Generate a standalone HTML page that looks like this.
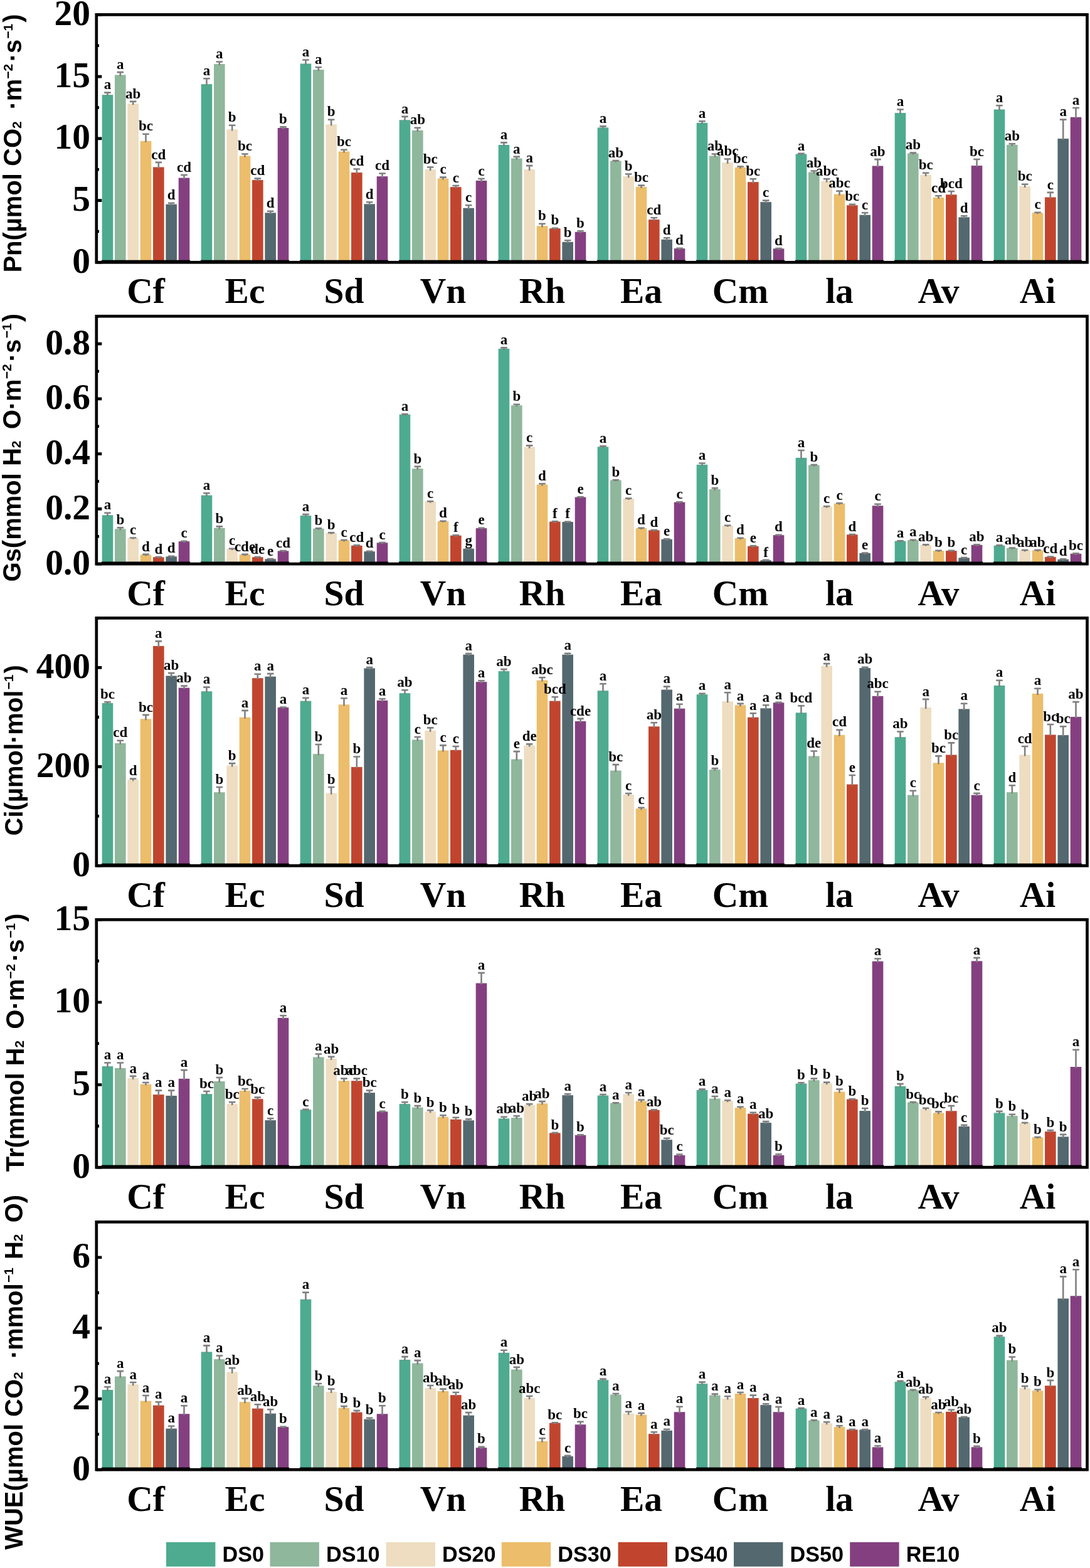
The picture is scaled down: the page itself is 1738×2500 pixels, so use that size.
<!DOCTYPE html>
<html><head><meta charset="utf-8"><title>Figure</title>
<style>html,body{margin:0;padding:0;background:#fff;}svg{display:block;}</style>
</head><body>
<svg width="1738" height="2500" viewBox="0 0 1738 2500">
<rect width="1738" height="2500" fill="#fff"/>
<g><rect x="162.68" y="151.2" width="17.6" height="267.1" fill="#4EAB8F"/><rect x="183.02" y="119.5" width="17.6" height="298.8" fill="#8FB79B"/><rect x="203.36" y="165.3" width="17.6" height="253" fill="#EEDDC1"/><rect x="223.7" y="224.8" width="17.6" height="193.5" fill="#ECBD6B"/><rect x="244.04" y="266.5" width="17.6" height="151.8" fill="#C1452E"/><rect x="264.38" y="325.7" width="17.6" height="92.6" fill="#54686F"/><rect x="284.72" y="283.6" width="17.6" height="134.7" fill="#843F80"/><rect x="320.68" y="134.2" width="17.6" height="284.1" fill="#4EAB8F"/><rect x="341.02" y="102.1" width="17.6" height="316.2" fill="#8FB79B"/><rect x="361.36" y="206.4" width="17.6" height="211.9" fill="#EEDDC1"/><rect x="381.7" y="248.5" width="17.6" height="169.8" fill="#ECBD6B"/><rect x="402.04" y="287" width="17.6" height="131.3" fill="#C1452E"/><rect x="422.38" y="339.3" width="17.6" height="79" fill="#54686F"/><rect x="442.72" y="204" width="17.6" height="214.3" fill="#843F80"/><rect x="478.68" y="101.5" width="17.6" height="316.8" fill="#4EAB8F"/><rect x="499.02" y="111.1" width="17.6" height="307.2" fill="#8FB79B"/><rect x="519.36" y="198.3" width="17.6" height="220" fill="#EEDDC1"/><rect x="539.7" y="241.5" width="17.6" height="176.8" fill="#ECBD6B"/><rect x="560.04" y="275.1" width="17.6" height="143.2" fill="#C1452E"/><rect x="580.38" y="325.3" width="17.6" height="93" fill="#54686F"/><rect x="600.72" y="281.2" width="17.6" height="137.1" fill="#843F80"/><rect x="636.68" y="191.3" width="17.6" height="227" fill="#4EAB8F"/><rect x="657.02" y="207.8" width="17.6" height="210.5" fill="#8FB79B"/><rect x="677.36" y="270.1" width="17.6" height="148.2" fill="#EEDDC1"/><rect x="697.7" y="284.6" width="17.6" height="133.7" fill="#ECBD6B"/><rect x="718.04" y="298.2" width="17.6" height="120.1" fill="#C1452E"/><rect x="738.38" y="331.7" width="17.6" height="86.6" fill="#54686F"/><rect x="758.72" y="288" width="17.6" height="130.3" fill="#843F80"/><rect x="794.68" y="231" width="17.6" height="187.3" fill="#4EAB8F"/><rect x="815.02" y="252.5" width="17.6" height="165.8" fill="#8FB79B"/><rect x="835.36" y="270.1" width="17.6" height="148.2" fill="#EEDDC1"/><rect x="855.7" y="360.2" width="17.6" height="58.1" fill="#ECBD6B"/><rect x="876.04" y="364.2" width="17.6" height="54.1" fill="#C1452E"/><rect x="896.38" y="385.8" width="17.6" height="32.5" fill="#54686F"/><rect x="916.72" y="369.8" width="17.6" height="48.5" fill="#843F80"/><rect x="952.68" y="203.4" width="17.6" height="214.9" fill="#4EAB8F"/><rect x="973.02" y="256.5" width="17.6" height="161.8" fill="#8FB79B"/><rect x="993.36" y="281.2" width="17.6" height="137.1" fill="#EEDDC1"/><rect x="1013.7" y="298" width="17.6" height="120.3" fill="#ECBD6B"/><rect x="1034.04" y="350.1" width="17.6" height="68.2" fill="#C1452E"/><rect x="1054.38" y="381.8" width="17.6" height="36.5" fill="#54686F"/><rect x="1074.72" y="396.2" width="17.6" height="22.1" fill="#843F80"/><rect x="1110.68" y="195.9" width="17.6" height="222.4" fill="#4EAB8F"/><rect x="1131.02" y="248.5" width="17.6" height="169.8" fill="#8FB79B"/><rect x="1151.36" y="259.1" width="17.6" height="159.2" fill="#EEDDC1"/><rect x="1171.7" y="266.9" width="17.6" height="151.4" fill="#ECBD6B"/><rect x="1192.04" y="290.2" width="17.6" height="128.1" fill="#C1452E"/><rect x="1212.38" y="322.1" width="17.6" height="96.2" fill="#54686F"/><rect x="1232.72" y="396.4" width="17.6" height="21.9" fill="#843F80"/><rect x="1268.68" y="245.5" width="17.6" height="172.8" fill="#4EAB8F"/><rect x="1289.02" y="274.5" width="17.6" height="143.8" fill="#8FB79B"/><rect x="1309.36" y="288.6" width="17.6" height="129.7" fill="#EEDDC1"/><rect x="1329.7" y="309.6" width="17.6" height="108.7" fill="#ECBD6B"/><rect x="1350.04" y="327.3" width="17.6" height="91" fill="#C1452E"/><rect x="1370.38" y="342.7" width="17.6" height="75.6" fill="#54686F"/><rect x="1390.72" y="264.5" width="17.6" height="153.8" fill="#843F80"/><rect x="1426.68" y="180.1" width="17.6" height="238.2" fill="#4EAB8F"/><rect x="1447.02" y="244.6" width="17.6" height="173.7" fill="#8FB79B"/><rect x="1467.36" y="278.9" width="17.6" height="139.4" fill="#EEDDC1"/><rect x="1487.7" y="314.9" width="17.6" height="103.4" fill="#ECBD6B"/><rect x="1508.04" y="310.3" width="17.6" height="108" fill="#C1452E"/><rect x="1528.38" y="346.3" width="17.6" height="72" fill="#54686F"/><rect x="1548.72" y="264.1" width="17.6" height="154.2" fill="#843F80"/><rect x="1584.68" y="174.5" width="17.6" height="243.8" fill="#4EAB8F"/><rect x="1605.02" y="230.9" width="17.6" height="187.4" fill="#8FB79B"/><rect x="1625.36" y="296.9" width="17.6" height="121.4" fill="#EEDDC1"/><rect x="1645.7" y="339.3" width="17.6" height="79" fill="#ECBD6B"/><rect x="1666.04" y="314.5" width="17.6" height="103.8" fill="#C1452E"/><rect x="1686.38" y="221.1" width="17.6" height="197.2" fill="#54686F"/><rect x="1706.72" y="186.8" width="17.6" height="231.5" fill="#843F80"/></g>
<g fill="#000"><rect x="161.88" y="414.7" width="141.24" height="3.6"/><rect x="319.88" y="414.7" width="141.24" height="3.6"/><rect x="477.88" y="414.7" width="141.24" height="3.6"/><rect x="635.88" y="414.7" width="141.24" height="3.6"/><rect x="793.88" y="414.7" width="141.24" height="3.6"/><rect x="951.88" y="414.7" width="141.24" height="3.6"/><rect x="1109.88" y="414.7" width="141.24" height="3.6"/><rect x="1267.88" y="414.7" width="141.24" height="3.6"/><rect x="1425.88" y="414.7" width="141.24" height="3.6"/><rect x="1583.88" y="414.7" width="141.24" height="3.6"/></g>
<path d="M171.48 153.2V147.6M166.18 147.6H176.78M191.82 121.5V115.1M186.52 115.1H197.12M212.16 167.3V161.9M206.86 161.9H217.46M232.5 226.8V213.8M227.2 213.8H237.8M252.84 268.5V258.9M247.54 258.9H258.14M273.18 327.7V323.7M267.88 323.7H278.48M293.52 285.6V279M288.22 279H298.82M329.48 136.2V125.2M324.18 125.2H334.78M349.82 104.1V98.5M344.52 98.5H355.12M370.16 208.4V199.7M364.86 199.7H375.46M390.5 250.5V245.5M385.2 245.5H395.8M410.84 289V284.6M405.54 284.6H416.14M431.18 341.3V336.7M425.88 336.7H436.48M451.52 206V202.4M446.22 202.4H456.82M487.48 103.5V95.5M482.18 95.5H492.78M507.82 113.1V107.3M502.52 107.3H513.12M528.16 200.3V190.7M522.86 190.7H533.46M548.5 243.5V238.8M543.2 238.8H553.8M568.84 277.1V269.5M563.54 269.5H574.14M589.18 327.3V322.3M583.88 322.3H594.48M609.52 283.2V276.5M604.22 276.5H614.82M645.48 193.3V185.9M640.18 185.9H650.78M665.82 209.8V203.8M660.52 203.8H671.12M686.16 272.1V266.5M680.86 266.5H691.46M706.5 286.6V282.6M701.2 282.6H711.8M726.84 300.2V296M721.54 296H732.14M747.18 333.7V327.3M741.88 327.3H752.48M767.52 290V285M762.22 285H772.82M803.48 233V227.4M798.18 227.4H808.78M823.82 254.5V249.9M818.52 249.9H829.12M844.16 272.1V264.1M838.86 264.1H849.46M864.5 362.2V356.7M859.2 356.7H869.8M884.84 366.2V363.7M879.54 363.7H890.14M905.18 387.8V383.2M899.88 383.2H910.48M925.52 371.8V368.2M920.22 368.2H930.82M961.48 205.4V201.4M956.18 201.4H966.78M981.82 258.5V256.1M976.52 256.1H987.12M1002.16 283.2V277.5M996.86 277.5H1007.46M1022.5 300V295.6M1017.2 295.6H1027.8M1042.84 352.1V347.3M1037.54 347.3H1048.14M1063.18 383.8V379.2M1057.88 379.2H1068.48M1083.52 398.2V395.8M1078.22 395.8H1088.82M1119.48 197.9V193.3M1114.18 193.3H1124.78M1139.82 250.5V245.5M1134.52 245.5H1145.12M1160.16 261.1V253.5M1154.86 253.5H1165.46M1180.5 268.9V265.5M1175.2 265.5H1185.8M1200.84 292.2V285.2M1195.54 285.2H1206.14M1221.18 324.1V319.6M1215.88 319.6H1226.48M1241.52 398.4V396.1M1236.22 396.1H1246.82M1277.48 247.5V244.9M1272.18 244.9H1282.78M1297.82 276.5V272.5M1292.52 272.5H1303.12M1318.16 290.6V285.2M1312.86 285.2H1323.46M1338.5 311.6V304.6M1333.2 304.6H1343.8M1358.84 329.3V325.7M1353.54 325.7H1364.14M1379.18 344.7V339.3M1373.88 339.3H1384.48M1399.52 266.5V254.1M1394.22 254.1H1404.82M1435.48 182.1V174.5M1430.18 174.5H1440.78M1455.82 246.6V243.6M1450.52 243.6H1461.12M1476.16 280.9V275.8M1470.86 275.8H1481.46M1496.5 316.9V312.2M1491.2 312.2H1501.8M1516.84 312.3V305M1511.54 305H1522.14M1537.18 348.3V344.2M1531.88 344.2H1542.48M1557.52 266.1V254M1552.22 254H1562.82M1593.48 176.5V168.2M1588.18 168.2H1598.78M1613.82 232.9V229.2M1608.52 229.2H1619.12M1634.16 298.9V293.8M1628.86 293.8H1639.46M1654.5 341.3V338.7M1649.2 338.7H1659.8M1674.84 316.5V306.9M1669.54 306.9H1680.14M1695.18 223.1V190.6M1689.88 190.6H1700.48M1715.52 188.8V172M1710.22 172H1720.82" stroke="#808080" stroke-width="2.6" fill="none"/>
<g font-family="'Liberation Serif','Times New Roman',serif" font-weight="bold" font-size="23" text-anchor="middle"><text x="171.48" y="142.2">a</text><text x="191.82" y="109.7">a</text><text x="212.16" y="156.5">ab</text><text x="232.5" y="208.4">bc</text><text x="252.84" y="253.5">cd</text><text x="273.18" y="318.3">d</text><text x="293.52" y="273.6">cd</text><text x="329.48" y="119.8">a</text><text x="349.82" y="93.1">a</text><text x="370.16" y="194.3">b</text><text x="390.5" y="240.1">bc</text><text x="410.84" y="279.2">cd</text><text x="431.18" y="331.3">d</text><text x="451.52" y="197">b</text><text x="487.48" y="90.1">a</text><text x="507.82" y="101.9">a</text><text x="528.16" y="185.3">b</text><text x="548.5" y="233.4">bc</text><text x="568.84" y="264.1">cd</text><text x="589.18" y="316.9">d</text><text x="609.52" y="271.1">cd</text><text x="645.48" y="180.5">a</text><text x="665.82" y="198.4">ab</text><text x="686.16" y="261.1">bc</text><text x="706.5" y="277.2">c</text><text x="726.84" y="290.6">c</text><text x="747.18" y="321.9">c</text><text x="767.52" y="279.6">c</text><text x="803.48" y="222">a</text><text x="823.82" y="244.5">a</text><text x="844.16" y="258.7">a</text><text x="864.5" y="351.3">b</text><text x="884.84" y="358.3">b</text><text x="905.18" y="377.8">b</text><text x="925.52" y="362.8">b</text><text x="961.48" y="196">a</text><text x="981.82" y="250.7">ab</text><text x="1002.16" y="272.1">b</text><text x="1022.5" y="290.2">bc</text><text x="1042.84" y="341.9">cd</text><text x="1063.18" y="373.8">d</text><text x="1083.52" y="390.4">d</text><text x="1119.48" y="187.9">a</text><text x="1139.82" y="240.1">ab</text><text x="1160.16" y="248.1">abc</text><text x="1180.5" y="260.1">bc</text><text x="1200.84" y="279.8">bc</text><text x="1221.18" y="314.2">c</text><text x="1241.52" y="390.7">d</text><text x="1277.48" y="239.5">a</text><text x="1297.82" y="267.1">ab</text><text x="1318.16" y="279.8">abc</text><text x="1338.5" y="299.2">abc</text><text x="1358.84" y="320.3">bc</text><text x="1379.18" y="333.9">c</text><text x="1399.52" y="248.7">ab</text><text x="1435.48" y="169.1">a</text><text x="1455.82" y="238.2">ab</text><text x="1476.16" y="270.4">bc</text><text x="1496.5" y="306.8">cd</text><text x="1516.84" y="299.6">bcd</text><text x="1537.18" y="338.8">d</text><text x="1557.52" y="248.6">bc</text><text x="1593.48" y="162.8">a</text><text x="1613.82" y="223.8">ab</text><text x="1634.16" y="288.4">bc</text><text x="1654.5" y="333.3">c</text><text x="1674.84" y="301.5">c</text><text x="1695.18" y="185.2">a</text><text x="1715.52" y="166.6">a</text></g>
<rect x="153.8" y="23.4" width="1579.7" height="394.9" fill="none" stroke="#000" stroke-width="4.7"/>
<path d="M153.8 418.3H162.3M153.8 368.94H158M153.8 319.58H162.3M153.8 270.21H158M153.8 220.85H162.3M153.8 171.49H158M153.8 122.13H162.3M153.8 72.76H158M153.8 23.4H162.3" stroke="#000" stroke-width="4.6" fill="none"/>
<g font-family="'Liberation Serif','Times New Roman',serif" font-weight="bold" font-size="57.5" text-anchor="end"><text x="144" y="434.8">0</text><text x="144" y="336.08">5</text><text x="144" y="237.35">10</text><text x="144" y="138.63">15</text><text x="144" y="39.9">20</text></g>
<g font-family="'Liberation Serif','Times New Roman',serif" font-weight="bold" font-size="57.5" text-anchor="middle"><text x="232.5" y="482.7">Cf</text><text x="390.5" y="482.7">Ec</text><text x="548.5" y="482.7">Sd</text><text x="706.5" y="482.7">Vn</text><text x="864.5" y="482.7">Rh</text><text x="1022.5" y="482.7">Ea</text><text x="1180.5" y="482.7">Cm</text><text x="1338.5" y="482.7">la</text><text x="1496.5" y="482.7">Av</text><text x="1654.5" y="482.7">Ai</text></g>
<text transform="translate(34.3,228.5) rotate(-90)" text-anchor="middle" font-family="'Liberation Sans',Arial,sans-serif" font-weight="bold" font-size="40"><tspan>Pn(µmol CO</tspan><tspan font-size="21">2</tspan><tspan dx="7.5"> ·m</tspan><tspan dy="-14.8" font-size="21">−2</tspan><tspan dx="3.5" dy="14.8">·s</tspan><tspan dx="1" dy="-14.8" font-size="21">−1</tspan><tspan dx="2" dy="14.8">)</tspan></text>
<g><rect x="162.68" y="821.3" width="17.6" height="77.8" fill="#4EAB8F"/><rect x="183.02" y="843.4" width="17.6" height="55.7" fill="#8FB79B"/><rect x="203.36" y="857.8" width="17.6" height="41.3" fill="#EEDDC1"/><rect x="223.7" y="884.5" width="17.6" height="14.6" fill="#ECBD6B"/><rect x="244.04" y="888.3" width="17.6" height="10.8" fill="#C1452E"/><rect x="264.38" y="887.3" width="17.6" height="11.8" fill="#54686F"/><rect x="284.72" y="863.2" width="17.6" height="35.9" fill="#843F80"/><rect x="320.68" y="789.6" width="17.6" height="109.5" fill="#4EAB8F"/><rect x="341.02" y="841.8" width="17.6" height="57.3" fill="#8FB79B"/><rect x="361.36" y="875.2" width="17.6" height="23.9" fill="#EEDDC1"/><rect x="381.7" y="884.3" width="17.6" height="14.8" fill="#ECBD6B"/><rect x="402.04" y="888.3" width="17.6" height="10.8" fill="#C1452E"/><rect x="422.38" y="891.3" width="17.6" height="7.8" fill="#54686F"/><rect x="442.72" y="878.4" width="17.6" height="20.7" fill="#843F80"/><rect x="478.68" y="822.1" width="17.6" height="77" fill="#4EAB8F"/><rect x="499.02" y="842.8" width="17.6" height="56.3" fill="#8FB79B"/><rect x="519.36" y="849.8" width="17.6" height="49.3" fill="#EEDDC1"/><rect x="539.7" y="861.4" width="17.6" height="37.7" fill="#ECBD6B"/><rect x="560.04" y="869.8" width="17.6" height="29.3" fill="#C1452E"/><rect x="580.38" y="879.2" width="17.6" height="19.9" fill="#54686F"/><rect x="600.72" y="865.4" width="17.6" height="33.7" fill="#843F80"/><rect x="636.68" y="660.9" width="17.6" height="238.2" fill="#4EAB8F"/><rect x="657.02" y="747.1" width="17.6" height="152" fill="#8FB79B"/><rect x="677.36" y="799.7" width="17.6" height="99.4" fill="#EEDDC1"/><rect x="697.7" y="831.1" width="17.6" height="68" fill="#ECBD6B"/><rect x="718.04" y="853.8" width="17.6" height="45.3" fill="#C1452E"/><rect x="738.38" y="874.8" width="17.6" height="24.3" fill="#54686F"/><rect x="758.72" y="842.2" width="17.6" height="56.9" fill="#843F80"/><rect x="794.68" y="556" width="17.6" height="343.1" fill="#4EAB8F"/><rect x="815.02" y="646.3" width="17.6" height="252.8" fill="#8FB79B"/><rect x="835.36" y="712.8" width="17.6" height="186.3" fill="#EEDDC1"/><rect x="855.7" y="772.6" width="17.6" height="126.5" fill="#ECBD6B"/><rect x="876.04" y="831.7" width="17.6" height="67.4" fill="#C1452E"/><rect x="896.38" y="832.1" width="17.6" height="67" fill="#54686F"/><rect x="916.72" y="792.6" width="17.6" height="106.5" fill="#843F80"/><rect x="952.68" y="712.4" width="17.6" height="186.7" fill="#4EAB8F"/><rect x="973.02" y="765.6" width="17.6" height="133.5" fill="#8FB79B"/><rect x="993.36" y="795" width="17.6" height="104.1" fill="#EEDDC1"/><rect x="1013.7" y="842.2" width="17.6" height="56.9" fill="#ECBD6B"/><rect x="1034.04" y="845.4" width="17.6" height="53.7" fill="#C1452E"/><rect x="1054.38" y="859.8" width="17.6" height="39.3" fill="#54686F"/><rect x="1074.72" y="800.7" width="17.6" height="98.4" fill="#843F80"/><rect x="1110.68" y="740.9" width="17.6" height="158.2" fill="#4EAB8F"/><rect x="1131.02" y="780" width="17.6" height="119.1" fill="#8FB79B"/><rect x="1151.36" y="838.1" width="17.6" height="61" fill="#EEDDC1"/><rect x="1171.7" y="858.2" width="17.6" height="40.9" fill="#ECBD6B"/><rect x="1192.04" y="870.8" width="17.6" height="28.3" fill="#C1452E"/><rect x="1212.38" y="893.3" width="17.6" height="5.8" fill="#54686F"/><rect x="1232.72" y="853.2" width="17.6" height="45.9" fill="#843F80"/><rect x="1268.68" y="729.9" width="17.6" height="169.2" fill="#4EAB8F"/><rect x="1289.02" y="741.5" width="17.6" height="157.6" fill="#8FB79B"/><rect x="1309.36" y="807.7" width="17.6" height="91.4" fill="#EEDDC1"/><rect x="1329.7" y="802.7" width="17.6" height="96.4" fill="#ECBD6B"/><rect x="1350.04" y="852.4" width="17.6" height="46.7" fill="#C1452E"/><rect x="1370.38" y="881.9" width="17.6" height="17.2" fill="#54686F"/><rect x="1390.72" y="806.3" width="17.6" height="92.8" fill="#843F80"/><rect x="1426.68" y="862.6" width="17.6" height="36.5" fill="#4EAB8F"/><rect x="1447.02" y="861.2" width="17.6" height="37.9" fill="#8FB79B"/><rect x="1467.36" y="868.8" width="17.6" height="30.3" fill="#EEDDC1"/><rect x="1487.7" y="878.1" width="17.6" height="21" fill="#ECBD6B"/><rect x="1508.04" y="878.1" width="17.6" height="21" fill="#C1452E"/><rect x="1528.38" y="889.4" width="17.6" height="9.7" fill="#54686F"/><rect x="1548.72" y="868.8" width="17.6" height="30.3" fill="#843F80"/><rect x="1584.68" y="869.8" width="17.6" height="29.3" fill="#4EAB8F"/><rect x="1605.02" y="873.9" width="17.6" height="25.2" fill="#8FB79B"/><rect x="1625.36" y="877.4" width="17.6" height="21.7" fill="#EEDDC1"/><rect x="1645.7" y="877.4" width="17.6" height="21.7" fill="#ECBD6B"/><rect x="1666.04" y="887.9" width="17.6" height="11.2" fill="#C1452E"/><rect x="1686.38" y="891.8" width="17.6" height="7.3" fill="#54686F"/><rect x="1706.72" y="882.8" width="17.6" height="16.3" fill="#843F80"/></g>
<g fill="#000"><rect x="161.88" y="895.5" width="141.24" height="3.6"/><rect x="319.88" y="895.5" width="141.24" height="3.6"/><rect x="477.88" y="895.5" width="141.24" height="3.6"/><rect x="635.88" y="895.5" width="141.24" height="3.6"/><rect x="793.88" y="895.5" width="141.24" height="3.6"/><rect x="951.88" y="895.5" width="141.24" height="3.6"/><rect x="1109.88" y="895.5" width="141.24" height="3.6"/><rect x="1267.88" y="895.5" width="141.24" height="3.6"/><rect x="1425.88" y="895.5" width="141.24" height="3.6"/><rect x="1583.88" y="895.5" width="141.24" height="3.6"/></g>
<path d="M171.48 823.3V817.7M166.18 817.7H176.78M191.82 845.4V841.4M186.52 841.4H197.12M212.16 859.8V857.5M206.86 857.5H217.46M232.5 886.5V883.9M227.2 883.9H237.8M252.84 890.3V888M247.54 888H258.14M273.18 889.3V886.8M267.88 886.8H278.48M293.52 865.2V862.8M288.22 862.8H298.82M329.48 791.6V786.2M324.18 786.2H334.78M349.82 843.8V839.4M344.52 839.4H355.12M370.16 877.2V874.8M364.86 874.8H375.46M390.5 886.3V883.9M385.2 883.9H395.8M410.84 890.3V888M405.54 888H416.14M431.18 893.3V891M425.88 891H436.48M451.52 880.4V878M446.22 878H456.82M487.48 824.1V820.1M482.18 820.1H492.78M507.82 844.8V842.4M502.52 842.4H513.12M528.16 851.8V849.4M522.86 849.4H533.46M548.5 863.4V861M543.2 861H553.8M568.84 871.8V869.4M563.54 869.4H574.14M589.18 881.2V878.8M583.88 878.8H594.48M609.52 867.4V865M604.22 865H614.82M645.48 662.9V660.4M640.18 660.4H650.78M665.82 749.1V743.9M660.52 743.9H671.12M686.16 801.7V799.3M680.86 799.3H691.46M706.5 833.1V830.7M701.2 830.7H711.8M726.84 855.8V853.4M721.54 853.4H732.14M747.18 876.8V874.4M741.88 874.4H752.48M767.52 844.2V841.8M762.22 841.8H772.82M803.48 558V554.4M798.18 554.4H808.78M823.82 648.3V644.7M818.52 644.7H829.12M844.16 714.8V710.4M838.86 710.4H849.46M864.5 774.6V771.2M859.2 771.2H869.8M884.84 833.7V831.3M879.54 831.3H890.14M905.18 834.1V831.7M899.88 831.7H910.48M925.52 794.6V792.2M920.22 792.2H930.82M961.48 714.4V711.4M956.18 711.4H966.78M981.82 767.6V765.2M976.52 765.2H987.12M1002.16 797V794.6M996.86 794.6H1007.46M1022.5 844.2V841.8M1017.2 841.8H1027.8M1042.84 847.4V845M1037.54 845H1048.14M1063.18 861.8V859.4M1057.88 859.4H1068.48M1083.52 802.7V800.3M1078.22 800.3H1088.82M1119.48 742.9V738.5M1114.18 738.5H1124.78M1139.82 782V778.2M1134.52 778.2H1145.12M1160.16 840.1V837.7M1154.86 837.7H1165.46M1180.5 860.2V857.8M1175.2 857.8H1185.8M1200.84 872.8V870.4M1195.54 870.4H1206.14M1221.18 895.3V892.9M1215.88 892.9H1226.48M1241.52 855.2V852.8M1236.22 852.8H1246.82M1277.48 731.9V718M1272.18 718H1282.78M1297.82 743.5V741.1M1292.52 741.1H1303.12M1318.16 809.7V807.3M1312.86 807.3H1323.46M1338.5 804.7V802.3M1333.2 802.3H1343.8M1358.84 854.4V852M1353.54 852H1364.14M1379.18 883.9V881.5M1373.88 881.5H1384.48M1399.52 808.3V803.7M1394.22 803.7H1404.82M1435.48 864.6V862.2M1430.18 862.2H1440.78M1455.82 863.2V860.8M1450.52 860.8H1461.12M1476.16 870.8V868.4M1470.86 868.4H1481.46M1496.5 880.1V877.7M1491.2 877.7H1501.8M1516.84 880.1V877.7M1511.54 877.7H1522.14M1537.18 891.4V889M1531.88 889H1542.48M1557.52 870.8V868.4M1552.22 868.4H1562.82M1593.48 871.8V869.4M1588.18 869.4H1598.78M1613.82 875.9V873.5M1608.52 873.5H1619.12M1634.16 879.4V877M1628.86 877H1639.46M1654.5 879.4V877M1649.2 877H1659.8M1674.84 889.9V887.5M1669.54 887.5H1680.14M1695.18 893.8V891.4M1689.88 891.4H1700.48M1715.52 884.8V882.4M1710.22 882.4H1720.82" stroke="#808080" stroke-width="2.6" fill="none"/>
<g font-family="'Liberation Serif','Times New Roman',serif" font-weight="bold" font-size="23" text-anchor="middle"><text x="171.48" y="812.3">a</text><text x="191.82" y="836">b</text><text x="212.16" y="852.1">c</text><text x="232.5" y="878.5">d</text><text x="252.84" y="882.6">d</text><text x="273.18" y="881.4">d</text><text x="293.52" y="857.4">c</text><text x="329.48" y="780.8">a</text><text x="349.82" y="834">b</text><text x="370.16" y="869.4">c</text><text x="390.5" y="878.5">cde</text><text x="410.84" y="882.6">de</text><text x="431.18" y="885.6">e</text><text x="451.52" y="872.6">cd</text><text x="487.48" y="814.7">a</text><text x="507.82" y="837">b</text><text x="528.16" y="844">b</text><text x="548.5" y="855.6">c</text><text x="568.84" y="864">cd</text><text x="589.18" y="873.4">d</text><text x="609.52" y="859.6">c</text><text x="645.48" y="655">a</text><text x="665.82" y="738.5">b</text><text x="686.16" y="793.9">c</text><text x="706.5" y="825.3">d</text><text x="726.84" y="848">f</text><text x="747.18" y="869">g</text><text x="767.52" y="836.4">e</text><text x="803.48" y="549">a</text><text x="823.82" y="639.3">b</text><text x="844.16" y="705">c</text><text x="864.5" y="765.8">d</text><text x="884.84" y="825.9">f</text><text x="905.18" y="826.3">f</text><text x="925.52" y="786.8">e</text><text x="961.48" y="706">a</text><text x="981.82" y="759.8">b</text><text x="1002.16" y="789.2">c</text><text x="1022.5" y="836.4">d</text><text x="1042.84" y="839.6">d</text><text x="1063.18" y="854">e</text><text x="1083.52" y="794.9">c</text><text x="1119.48" y="733.1">a</text><text x="1139.82" y="772.8">b</text><text x="1160.16" y="832.3">c</text><text x="1180.5" y="852.4">d</text><text x="1200.84" y="865">e</text><text x="1221.18" y="887.5">f</text><text x="1241.52" y="847.4">d</text><text x="1277.48" y="712.6">a</text><text x="1297.82" y="735.7">b</text><text x="1318.16" y="801.9">c</text><text x="1338.5" y="796.9">c</text><text x="1358.84" y="846.6">d</text><text x="1379.18" y="876.1">e</text><text x="1399.52" y="798.3">c</text><text x="1435.48" y="856.8">a</text><text x="1455.82" y="855.4">a</text><text x="1476.16" y="863">ab</text><text x="1496.5" y="872.3">b</text><text x="1516.84" y="872.3">b</text><text x="1537.18" y="883.6">c</text><text x="1557.52" y="863">ab</text><text x="1593.48" y="864">a</text><text x="1613.82" y="868.1">ab</text><text x="1634.16" y="871.6">ab</text><text x="1654.5" y="871.6">ab</text><text x="1674.84" y="882.1">cd</text><text x="1695.18" y="886">d</text><text x="1715.52" y="877">bc</text></g>
<rect x="153.8" y="504.2" width="1579.7" height="394.9" fill="none" stroke="#000" stroke-width="4.7"/>
<path d="M153.8 899.1H162.3M153.8 855.22H158M153.8 811.34H162.3M153.8 767.47H158M153.8 723.59H162.3M153.8 679.71H158M153.8 635.83H162.3M153.8 591.96H158M153.8 548.08H162.3M153.8 504.2H158" stroke="#000" stroke-width="4.6" fill="none"/>
<g font-family="'Liberation Serif','Times New Roman',serif" font-weight="bold" font-size="57.5" text-anchor="end"><text x="144" y="915.6">0.0</text><text x="144" y="827.84">0.2</text><text x="144" y="740.09">0.4</text><text x="144" y="652.33">0.6</text><text x="144" y="564.58">0.8</text></g>
<g font-family="'Liberation Serif','Times New Roman',serif" font-weight="bold" font-size="57.5" text-anchor="middle"><text x="232.5" y="964.7">Cf</text><text x="390.5" y="964.7">Ec</text><text x="548.5" y="964.7">Sd</text><text x="706.5" y="964.7">Vn</text><text x="864.5" y="964.7">Rh</text><text x="1022.5" y="964.7">Ea</text><text x="1180.5" y="964.7">Cm</text><text x="1338.5" y="964.7">la</text><text x="1496.5" y="964.7">Av</text><text x="1654.5" y="964.7">Ai</text></g>
<text transform="translate(33.1,713.75) rotate(-90)" text-anchor="middle" font-family="'Liberation Sans',Arial,sans-serif" font-weight="bold" font-size="40"><tspan>Gs(mmol H</tspan><tspan font-size="21">2</tspan><tspan dx="7"> O·m</tspan><tspan dy="-14.8" font-size="21">−2</tspan><tspan dx="4" dy="14.8">·s</tspan><tspan dx="1.5" dy="-14.8" font-size="21">−1</tspan><tspan dx="2" dy="14.8">)</tspan></text>
<g><rect x="162.68" y="1120.9" width="17.6" height="259.4" fill="#4EAB8F"/><rect x="183.02" y="1185" width="17.6" height="195.3" fill="#8FB79B"/><rect x="203.36" y="1243.2" width="17.6" height="137.1" fill="#EEDDC1"/><rect x="223.7" y="1146.3" width="17.6" height="234" fill="#ECBD6B"/><rect x="244.04" y="1030" width="17.6" height="350.3" fill="#C1452E"/><rect x="264.38" y="1077.5" width="17.6" height="302.8" fill="#54686F"/><rect x="284.72" y="1096.6" width="17.6" height="283.7" fill="#843F80"/><rect x="320.68" y="1102.2" width="17.6" height="278.1" fill="#4EAB8F"/><rect x="341.02" y="1263.2" width="17.6" height="117.1" fill="#8FB79B"/><rect x="361.36" y="1220.5" width="17.6" height="159.8" fill="#EEDDC1"/><rect x="381.7" y="1143.7" width="17.6" height="236.6" fill="#ECBD6B"/><rect x="402.04" y="1081.2" width="17.6" height="299.1" fill="#C1452E"/><rect x="422.38" y="1078.7" width="17.6" height="301.6" fill="#54686F"/><rect x="442.72" y="1127.9" width="17.6" height="252.4" fill="#843F80"/><rect x="478.68" y="1117.6" width="17.6" height="262.7" fill="#4EAB8F"/><rect x="499.02" y="1202.1" width="17.6" height="178.2" fill="#8FB79B"/><rect x="519.36" y="1264.6" width="17.6" height="115.7" fill="#EEDDC1"/><rect x="539.7" y="1123.3" width="17.6" height="257" fill="#ECBD6B"/><rect x="560.04" y="1222.9" width="17.6" height="157.4" fill="#C1452E"/><rect x="580.38" y="1065.5" width="17.6" height="314.8" fill="#54686F"/><rect x="600.72" y="1116.8" width="17.6" height="263.5" fill="#843F80"/><rect x="636.68" y="1105.2" width="17.6" height="275.1" fill="#4EAB8F"/><rect x="657.02" y="1179.4" width="17.6" height="200.9" fill="#8FB79B"/><rect x="677.36" y="1164.8" width="17.6" height="215.5" fill="#EEDDC1"/><rect x="697.7" y="1196.4" width="17.6" height="183.9" fill="#ECBD6B"/><rect x="718.04" y="1195.8" width="17.6" height="184.5" fill="#C1452E"/><rect x="738.38" y="1043.7" width="17.6" height="336.6" fill="#54686F"/><rect x="758.72" y="1087.2" width="17.6" height="293.1" fill="#843F80"/><rect x="794.68" y="1070.1" width="17.6" height="310.2" fill="#4EAB8F"/><rect x="815.02" y="1210.5" width="17.6" height="169.8" fill="#8FB79B"/><rect x="835.36" y="1188.4" width="17.6" height="191.9" fill="#EEDDC1"/><rect x="855.7" y="1084.6" width="17.6" height="295.7" fill="#ECBD6B"/><rect x="876.04" y="1117.6" width="17.6" height="262.7" fill="#C1452E"/><rect x="896.38" y="1043.7" width="17.6" height="336.6" fill="#54686F"/><rect x="916.72" y="1149.9" width="17.6" height="230.4" fill="#843F80"/><rect x="952.68" y="1101.2" width="17.6" height="279.1" fill="#4EAB8F"/><rect x="973.02" y="1228.5" width="17.6" height="151.8" fill="#8FB79B"/><rect x="993.36" y="1267" width="17.6" height="113.3" fill="#EEDDC1"/><rect x="1013.7" y="1289.3" width="17.6" height="91" fill="#ECBD6B"/><rect x="1034.04" y="1158.3" width="17.6" height="222" fill="#C1452E"/><rect x="1054.38" y="1099.6" width="17.6" height="280.7" fill="#54686F"/><rect x="1074.72" y="1129.7" width="17.6" height="250.6" fill="#843F80"/><rect x="1110.68" y="1107.2" width="17.6" height="273.1" fill="#4EAB8F"/><rect x="1131.02" y="1227.1" width="17.6" height="153.2" fill="#8FB79B"/><rect x="1151.36" y="1118.2" width="17.6" height="262.1" fill="#EEDDC1"/><rect x="1171.7" y="1124.3" width="17.6" height="256" fill="#ECBD6B"/><rect x="1192.04" y="1143.7" width="17.6" height="236.6" fill="#C1452E"/><rect x="1212.38" y="1129.3" width="17.6" height="251" fill="#54686F"/><rect x="1232.72" y="1120.3" width="17.6" height="260" fill="#843F80"/><rect x="1268.68" y="1136.3" width="17.6" height="244" fill="#4EAB8F"/><rect x="1289.02" y="1205.5" width="17.6" height="174.8" fill="#8FB79B"/><rect x="1309.36" y="1061.5" width="17.6" height="318.8" fill="#EEDDC1"/><rect x="1329.7" y="1171.8" width="17.6" height="208.5" fill="#ECBD6B"/><rect x="1350.04" y="1250.6" width="17.6" height="129.7" fill="#C1452E"/><rect x="1370.38" y="1065.1" width="17.6" height="315.2" fill="#54686F"/><rect x="1390.72" y="1109.8" width="17.6" height="270.5" fill="#843F80"/><rect x="1426.68" y="1175.2" width="17.6" height="205.1" fill="#4EAB8F"/><rect x="1447.02" y="1267.6" width="17.6" height="112.7" fill="#8FB79B"/><rect x="1467.36" y="1127.9" width="17.6" height="252.4" fill="#EEDDC1"/><rect x="1487.7" y="1216.3" width="17.6" height="164" fill="#ECBD6B"/><rect x="1508.04" y="1203.5" width="17.6" height="176.8" fill="#C1452E"/><rect x="1528.38" y="1130.4" width="17.6" height="249.9" fill="#54686F"/><rect x="1548.72" y="1267.6" width="17.6" height="112.7" fill="#843F80"/><rect x="1584.68" y="1093" width="17.6" height="287.3" fill="#4EAB8F"/><rect x="1605.02" y="1263.1" width="17.6" height="117.2" fill="#8FB79B"/><rect x="1625.36" y="1203.5" width="17.6" height="176.8" fill="#EEDDC1"/><rect x="1645.7" y="1105.9" width="17.6" height="274.4" fill="#ECBD6B"/><rect x="1666.04" y="1171.5" width="17.6" height="208.8" fill="#C1452E"/><rect x="1686.38" y="1172.1" width="17.6" height="208.2" fill="#54686F"/><rect x="1706.72" y="1142.9" width="17.6" height="237.4" fill="#843F80"/></g>
<g fill="#000"><rect x="161.88" y="1376.7" width="141.24" height="3.6"/><rect x="319.88" y="1376.7" width="141.24" height="3.6"/><rect x="477.88" y="1376.7" width="141.24" height="3.6"/><rect x="635.88" y="1376.7" width="141.24" height="3.6"/><rect x="793.88" y="1376.7" width="141.24" height="3.6"/><rect x="951.88" y="1376.7" width="141.24" height="3.6"/><rect x="1109.88" y="1376.7" width="141.24" height="3.6"/><rect x="1267.88" y="1376.7" width="141.24" height="3.6"/><rect x="1425.88" y="1376.7" width="141.24" height="3.6"/><rect x="1583.88" y="1376.7" width="141.24" height="3.6"/></g>
<path d="M171.48 1122.9V1119.3M166.18 1119.3H176.78M191.82 1187V1180.8M186.52 1180.8H197.12M212.16 1245.2V1241.6M206.86 1241.6H217.46M232.5 1148.3V1139.9M227.2 1139.9H237.8M252.84 1032V1022.4M247.54 1022.4H258.14M273.18 1079.5V1073.1M267.88 1073.1H278.48M293.52 1098.6V1093.6M288.22 1093.6H298.82M329.48 1104.2V1095.6M324.18 1095.6H334.78M349.82 1265.2V1255M344.52 1255H355.12M370.16 1222.5V1217.1M364.86 1217.1H375.46M390.5 1145.7V1132.9M385.2 1132.9H395.8M410.84 1083.2V1074.8M405.54 1074.8H416.14M431.18 1080.7V1074.1M425.88 1074.1H436.48M451.52 1129.9V1127.5M446.22 1127.5H456.82M487.48 1119.6V1112.8M482.18 1112.8H492.78M507.82 1204.1V1187M502.52 1187H513.12M528.16 1266.6V1255M522.86 1255H533.46M548.5 1125.3V1113.2M543.2 1113.2H553.8M568.84 1224.9V1206.5M563.54 1206.5H574.14M589.18 1067.5V1064.1M583.88 1064.1H594.48M609.52 1118.8V1114.2M604.22 1114.2H614.82M645.48 1107.2V1100.2M640.18 1100.2H650.78M665.82 1181.4V1175M660.52 1175H671.12M686.16 1166.8V1160.4M680.86 1160.4H691.46M706.5 1198.4V1188.4M701.2 1188.4H711.8M726.84 1197.8V1190M721.54 1190H732.14M747.18 1045.7V1042.1M741.88 1042.1H752.48M767.52 1089.2V1085.2M762.22 1085.2H772.82M803.48 1072.1V1067.1M798.18 1067.1H808.78M823.82 1212.5V1198.1M818.52 1198.1H829.12M844.16 1190.4V1186.4M838.86 1186.4H849.46M864.5 1086.6V1080.2M859.2 1080.2H869.8M884.84 1119.6V1111.2M879.54 1111.2H890.14M905.18 1045.7V1041.7M899.88 1041.7H910.48M925.52 1151.9V1145.9M920.22 1145.9H930.82M961.48 1103.2V1090.2M956.18 1090.2H966.78M981.82 1230.5V1219.1M976.52 1219.1H987.12M1002.16 1269V1265M996.86 1265H1007.46M1022.5 1291.3V1287.7M1017.2 1287.7H1027.8M1042.84 1160.3V1152.3M1037.54 1152.3H1048.14M1063.18 1101.6V1094.6M1057.88 1094.6H1068.48M1083.52 1131.7V1122.7M1078.22 1122.7H1088.82M1119.48 1109.2V1105.8M1114.18 1105.8H1124.78M1139.82 1229.1V1225.1M1134.52 1225.1H1145.12M1160.16 1120.2V1104.2M1154.86 1104.2H1165.46M1180.5 1126.3V1121.9M1175.2 1121.9H1185.8M1200.84 1145.7V1137.3M1195.54 1137.3H1206.14M1221.18 1131.3V1124.3M1215.88 1124.3H1226.48M1241.52 1122.3V1119.9M1236.22 1119.9H1246.82M1277.48 1138.3V1125.3M1272.18 1125.3H1282.78M1297.82 1207.5V1197.5M1292.52 1197.5H1303.12M1318.16 1063.5V1058.1M1312.86 1058.1H1323.46M1338.5 1173.8V1163.8M1333.2 1163.8H1343.8M1358.84 1252.6V1236M1353.54 1236H1364.14M1379.18 1067.1V1063.7M1373.88 1063.7H1384.48M1399.52 1111.8V1102.8M1394.22 1102.8H1404.82M1435.48 1177.2V1166.5M1430.18 1166.5H1440.78M1455.82 1269.6V1260.8M1450.52 1260.8H1461.12M1476.16 1129.9V1114.9M1470.86 1114.9H1481.46M1496.5 1218.3V1205.4M1491.2 1205.4H1501.8M1516.84 1205.5V1184.4M1511.54 1184.4H1522.14M1537.18 1132.4V1121.7M1531.88 1121.7H1542.48M1557.52 1269.6V1264.9M1552.22 1264.9H1562.82M1593.48 1095V1084.7M1588.18 1084.7H1598.78M1613.82 1265.1V1252.2M1608.52 1252.2H1619.12M1634.16 1205.5V1190M1628.86 1190H1639.46M1654.5 1107.9V1097.7M1649.2 1097.7H1659.8M1674.84 1173.5V1155M1669.54 1155H1680.14M1695.18 1174.1V1158.3M1689.88 1158.3H1700.48M1715.52 1144.9V1119.1M1710.22 1119.1H1720.82" stroke="#808080" stroke-width="2.6" fill="none"/>
<g font-family="'Liberation Serif','Times New Roman',serif" font-weight="bold" font-size="23" text-anchor="middle"><text x="171.48" y="1113.9">bc</text><text x="191.82" y="1175.4">cd</text><text x="212.16" y="1236.2">d</text><text x="232.5" y="1134.5">bc</text><text x="252.84" y="1017">a</text><text x="273.18" y="1067.7">ab</text><text x="293.52" y="1088.2">ab</text><text x="329.48" y="1090.2">a</text><text x="349.82" y="1249.6">b</text><text x="370.16" y="1211.7">b</text><text x="390.5" y="1127.5">a</text><text x="410.84" y="1069.4">a</text><text x="431.18" y="1068.7">a</text><text x="451.52" y="1122.1">a</text><text x="487.48" y="1107.4">a</text><text x="507.82" y="1181.6">b</text><text x="528.16" y="1249.6">b</text><text x="548.5" y="1107.8">a</text><text x="568.84" y="1201.1">b</text><text x="589.18" y="1058.7">a</text><text x="609.52" y="1108.8">a</text><text x="645.48" y="1094.8">ab</text><text x="665.82" y="1169.6">c</text><text x="686.16" y="1155">bc</text><text x="706.5" y="1183">c</text><text x="726.84" y="1184.6">c</text><text x="747.18" y="1036.7">a</text><text x="767.52" y="1079.8">a</text><text x="803.48" y="1061.7">ab</text><text x="823.82" y="1192.7">e</text><text x="844.16" y="1181">de</text><text x="864.5" y="1074.8">abc</text><text x="884.84" y="1105.8">bcd</text><text x="905.18" y="1036.3">a</text><text x="925.52" y="1140.5">cde</text><text x="961.48" y="1084.8">a</text><text x="981.82" y="1213.7">bc</text><text x="1002.16" y="1259.6">c</text><text x="1022.5" y="1282.3">c</text><text x="1042.84" y="1146.9">ab</text><text x="1063.18" y="1089.2">a</text><text x="1083.52" y="1117.3">a</text><text x="1119.48" y="1100.4">a</text><text x="1139.82" y="1219.7">b</text><text x="1160.16" y="1098.8">a</text><text x="1180.5" y="1116.5">a</text><text x="1200.84" y="1131.9">a</text><text x="1221.18" y="1118.9">a</text><text x="1241.52" y="1114.5">a</text><text x="1277.48" y="1119.9">bcd</text><text x="1297.82" y="1192.1">de</text><text x="1318.16" y="1052.7">a</text><text x="1338.5" y="1158.4">cd</text><text x="1358.84" y="1230.6">e</text><text x="1379.18" y="1058.3">ab</text><text x="1399.52" y="1097.4">abc</text><text x="1435.48" y="1161.1">ab</text><text x="1455.82" y="1255.4">c</text><text x="1476.16" y="1109.5">a</text><text x="1496.5" y="1200">bc</text><text x="1516.84" y="1179">bc</text><text x="1537.18" y="1116.3">a</text><text x="1557.52" y="1259.5">c</text><text x="1593.48" y="1079.3">a</text><text x="1613.82" y="1246.8">d</text><text x="1634.16" y="1184.6">cd</text><text x="1654.5" y="1092.3">a</text><text x="1674.84" y="1149.6">bc</text><text x="1695.18" y="1152.9">bc</text><text x="1715.52" y="1113.7">ab</text></g>
<rect x="153.8" y="985.4" width="1579.7" height="394.9" fill="none" stroke="#000" stroke-width="4.7"/>
<path d="M153.8 1380.3H162.3M153.8 1301.32H158M153.8 1222.34H162.3M153.8 1143.36H158M153.8 1064.38H162.3M153.8 985.4H158" stroke="#000" stroke-width="4.6" fill="none"/>
<g font-family="'Liberation Serif','Times New Roman',serif" font-weight="bold" font-size="57.5" text-anchor="end"><text x="144" y="1396.8">0</text><text x="144" y="1238.84">200</text><text x="144" y="1080.88">400</text></g>
<g font-family="'Liberation Serif','Times New Roman',serif" font-weight="bold" font-size="57.5" text-anchor="middle"><text x="232.5" y="1445.8">Cf</text><text x="390.5" y="1445.8">Ec</text><text x="548.5" y="1445.8">Sd</text><text x="706.5" y="1445.8">Vn</text><text x="864.5" y="1445.8">Rh</text><text x="1022.5" y="1445.8">Ea</text><text x="1180.5" y="1445.8">Cm</text><text x="1338.5" y="1445.8">la</text><text x="1496.5" y="1445.8">Av</text><text x="1654.5" y="1445.8">Ai</text></g>
<text transform="translate(35.9,1196.35) rotate(-90)" text-anchor="middle" font-family="'Liberation Sans',Arial,sans-serif" font-weight="bold" font-size="40"><tspan>Ci(µmol·mol</tspan><tspan dx="1" dy="-14.8" font-size="21">−1</tspan><tspan dx="2" dy="14.8">)</tspan></text>
<g><rect x="162.68" y="1700.1" width="17.6" height="161.1" fill="#4EAB8F"/><rect x="183.02" y="1702.9" width="17.6" height="158.3" fill="#8FB79B"/><rect x="203.36" y="1719.1" width="17.6" height="142.1" fill="#EEDDC1"/><rect x="223.7" y="1728.6" width="17.6" height="132.6" fill="#ECBD6B"/><rect x="244.04" y="1745.2" width="17.6" height="116" fill="#C1452E"/><rect x="264.38" y="1747" width="17.6" height="114.2" fill="#54686F"/><rect x="284.72" y="1719.9" width="17.6" height="141.3" fill="#843F80"/><rect x="320.68" y="1744.2" width="17.6" height="117" fill="#4EAB8F"/><rect x="341.02" y="1724" width="17.6" height="137.2" fill="#8FB79B"/><rect x="361.36" y="1760.1" width="17.6" height="101.1" fill="#EEDDC1"/><rect x="381.7" y="1739" width="17.6" height="122.2" fill="#ECBD6B"/><rect x="402.04" y="1752.2" width="17.6" height="109" fill="#C1452E"/><rect x="422.38" y="1786.1" width="17.6" height="75.1" fill="#54686F"/><rect x="442.72" y="1622.9" width="17.6" height="238.3" fill="#843F80"/><rect x="478.68" y="1769.3" width="17.6" height="91.9" fill="#4EAB8F"/><rect x="499.02" y="1685.5" width="17.6" height="175.7" fill="#8FB79B"/><rect x="519.36" y="1687.9" width="17.6" height="173.3" fill="#EEDDC1"/><rect x="539.7" y="1723.2" width="17.6" height="138" fill="#ECBD6B"/><rect x="560.04" y="1723.2" width="17.6" height="138" fill="#C1452E"/><rect x="580.38" y="1742.2" width="17.6" height="119" fill="#54686F"/><rect x="600.72" y="1772.3" width="17.6" height="88.9" fill="#843F80"/><rect x="636.68" y="1760.1" width="17.6" height="101.1" fill="#4EAB8F"/><rect x="657.02" y="1765.7" width="17.6" height="95.5" fill="#8FB79B"/><rect x="677.36" y="1772.3" width="17.6" height="88.9" fill="#EEDDC1"/><rect x="697.7" y="1780.7" width="17.6" height="80.5" fill="#ECBD6B"/><rect x="718.04" y="1784.7" width="17.6" height="76.5" fill="#C1452E"/><rect x="738.38" y="1786.3" width="17.6" height="74.9" fill="#54686F"/><rect x="758.72" y="1567.6" width="17.6" height="293.6" fill="#843F80"/><rect x="794.68" y="1783.3" width="17.6" height="77.9" fill="#4EAB8F"/><rect x="815.02" y="1782.1" width="17.6" height="79.1" fill="#8FB79B"/><rect x="835.36" y="1761.7" width="17.6" height="99.5" fill="#EEDDC1"/><rect x="855.7" y="1759.3" width="17.6" height="101.9" fill="#ECBD6B"/><rect x="876.04" y="1806.4" width="17.6" height="54.8" fill="#C1452E"/><rect x="896.38" y="1746.2" width="17.6" height="115" fill="#54686F"/><rect x="916.72" y="1809.8" width="17.6" height="51.4" fill="#843F80"/><rect x="952.68" y="1746.6" width="17.6" height="114.6" fill="#4EAB8F"/><rect x="973.02" y="1758.6" width="17.6" height="102.6" fill="#8FB79B"/><rect x="993.36" y="1744.6" width="17.6" height="116.6" fill="#EEDDC1"/><rect x="1013.7" y="1755.6" width="17.6" height="105.6" fill="#ECBD6B"/><rect x="1034.04" y="1769.7" width="17.6" height="91.5" fill="#C1452E"/><rect x="1054.38" y="1817.2" width="17.6" height="44" fill="#54686F"/><rect x="1074.72" y="1841.9" width="17.6" height="19.3" fill="#843F80"/><rect x="1110.68" y="1738" width="17.6" height="123.2" fill="#4EAB8F"/><rect x="1131.02" y="1751.6" width="17.6" height="109.6" fill="#8FB79B"/><rect x="1151.36" y="1755.2" width="17.6" height="106" fill="#EEDDC1"/><rect x="1171.7" y="1766.3" width="17.6" height="94.9" fill="#ECBD6B"/><rect x="1192.04" y="1775.7" width="17.6" height="85.5" fill="#C1452E"/><rect x="1212.38" y="1790.1" width="17.6" height="71.1" fill="#54686F"/><rect x="1232.72" y="1841.9" width="17.6" height="19.3" fill="#843F80"/><rect x="1268.68" y="1727.6" width="17.6" height="133.6" fill="#4EAB8F"/><rect x="1289.02" y="1722.2" width="17.6" height="139" fill="#8FB79B"/><rect x="1309.36" y="1727.2" width="17.6" height="134" fill="#EEDDC1"/><rect x="1329.7" y="1740.6" width="17.6" height="120.6" fill="#ECBD6B"/><rect x="1350.04" y="1752.6" width="17.6" height="108.6" fill="#C1452E"/><rect x="1370.38" y="1771.1" width="17.6" height="90.1" fill="#54686F"/><rect x="1390.72" y="1532.7" width="17.6" height="328.5" fill="#843F80"/><rect x="1426.68" y="1731.8" width="17.6" height="129.4" fill="#4EAB8F"/><rect x="1447.02" y="1757.5" width="17.6" height="103.7" fill="#8FB79B"/><rect x="1467.36" y="1768.2" width="17.6" height="93" fill="#EEDDC1"/><rect x="1487.7" y="1774.4" width="17.6" height="86.8" fill="#ECBD6B"/><rect x="1508.04" y="1771.3" width="17.6" height="89.9" fill="#C1452E"/><rect x="1528.38" y="1795.9" width="17.6" height="65.3" fill="#54686F"/><rect x="1548.72" y="1532.3" width="17.6" height="328.9" fill="#843F80"/><rect x="1584.68" y="1774.4" width="17.6" height="86.8" fill="#4EAB8F"/><rect x="1605.02" y="1779.1" width="17.6" height="82.1" fill="#8FB79B"/><rect x="1625.36" y="1790.4" width="17.6" height="70.8" fill="#EEDDC1"/><rect x="1645.7" y="1813.4" width="17.6" height="47.8" fill="#ECBD6B"/><rect x="1666.04" y="1804.1" width="17.6" height="57.1" fill="#C1452E"/><rect x="1686.38" y="1812.4" width="17.6" height="48.8" fill="#54686F"/><rect x="1706.72" y="1701" width="17.6" height="160.2" fill="#843F80"/></g>
<g fill="#000"><rect x="161.88" y="1857.6" width="141.24" height="3.6"/><rect x="319.88" y="1857.6" width="141.24" height="3.6"/><rect x="477.88" y="1857.6" width="141.24" height="3.6"/><rect x="635.88" y="1857.6" width="141.24" height="3.6"/><rect x="793.88" y="1857.6" width="141.24" height="3.6"/><rect x="951.88" y="1857.6" width="141.24" height="3.6"/><rect x="1109.88" y="1857.6" width="141.24" height="3.6"/><rect x="1267.88" y="1857.6" width="141.24" height="3.6"/><rect x="1425.88" y="1857.6" width="141.24" height="3.6"/><rect x="1583.88" y="1857.6" width="141.24" height="3.6"/></g>
<path d="M171.48 1702.1V1694.5M166.18 1694.5H176.78M191.82 1704.9V1694.5M186.52 1694.5H197.12M212.16 1721.1V1715.9M206.86 1715.9H217.46M232.5 1730.6V1726M227.2 1726H237.8M252.84 1747.2V1738.6M247.54 1738.6H258.14M273.18 1749V1738.6M267.88 1738.6H278.48M293.52 1721.9V1706.1M288.22 1706.1H298.82M329.48 1746.2V1740M324.18 1740H334.78M349.82 1726V1718M344.52 1718H355.12M370.16 1762.1V1757.3M364.86 1757.3H375.46M390.5 1741V1736M385.2 1736H395.8M410.84 1754.2V1749.6M405.54 1749.6H416.14M431.18 1788.1V1783.3M425.88 1783.3H436.48M451.52 1624.9V1619.3M446.22 1619.3H456.82M487.48 1771.3V1768.9M482.18 1768.9H492.78M507.82 1687.5V1680.5M502.52 1680.5H513.12M528.16 1689.9V1684.9M522.86 1684.9H533.46M548.5 1725.2V1719.6M543.2 1719.6H553.8M568.84 1725.2V1719.6M563.54 1719.6H574.14M589.18 1744.2V1738.6M583.88 1738.6H594.48M609.52 1774.3V1771.9M604.22 1771.9H614.82M645.48 1762.1V1757.3M640.18 1757.3H650.78M665.82 1767.7V1763.1M660.52 1763.1H671.12M686.16 1774.3V1770.3M680.86 1770.3H691.46M706.5 1782.7V1778.3M701.2 1778.3H711.8M726.84 1786.7V1781.7M721.54 1781.7H732.14M747.18 1788.3V1784.3M741.88 1784.3H752.48M767.52 1569.6V1551.1M762.22 1551.1H772.82M803.48 1785.3V1780.7M798.18 1780.7H808.78M823.82 1784.1V1779.3M818.52 1779.3H829.12M844.16 1763.7V1760.3M838.86 1760.3H849.46M864.5 1761.3V1756.1M859.2 1756.1H869.8M884.84 1808.4V1806M879.54 1806H890.14M905.18 1748.2V1744.2M899.88 1744.2H910.48M925.52 1811.8V1809.4M920.22 1809.4H930.82M961.48 1748.6V1745M956.18 1745H966.78M981.82 1760.6V1758.2M976.52 1758.2H987.12M1002.16 1746.6V1742.2M996.86 1742.2H1007.46M1022.5 1757.6V1753.6M1017.2 1753.6H1027.8M1042.84 1771.7V1769.3M1037.54 1769.3H1048.14M1063.18 1819.2V1814.8M1057.88 1814.8H1068.48M1083.52 1843.9V1840.5M1078.22 1840.5H1088.82M1119.48 1740V1736.6M1114.18 1736.6H1124.78M1139.82 1753.6V1748M1134.52 1748H1145.12M1160.16 1757.2V1754.2M1154.86 1754.2H1165.46M1180.5 1768.3V1764.7M1175.2 1764.7H1185.8M1200.84 1777.7V1773.7M1195.54 1773.7H1206.14M1221.18 1792.1V1788.1M1215.88 1788.1H1226.48M1241.52 1843.9V1840.3M1236.22 1840.3H1246.82M1277.48 1729.6V1726.2M1272.18 1726.2H1282.78M1297.82 1724.2V1719.6M1292.52 1719.6H1303.12M1318.16 1729.2V1725.6M1312.86 1725.6H1323.46M1338.5 1742.6V1736.6M1333.2 1736.6H1343.8M1358.84 1754.6V1752.2M1353.54 1752.2H1364.14M1379.18 1773.1V1767.1M1373.88 1767.1H1384.48M1399.52 1534.7V1528.5M1394.22 1528.5H1404.82M1435.48 1733.8V1728.1M1430.18 1728.1H1440.78M1455.82 1759.5V1757.1M1450.52 1757.1H1461.12M1476.16 1770.2V1766.8M1470.86 1766.8H1481.46M1496.5 1776.4V1772.4M1491.2 1772.4H1501.8M1516.84 1773.3V1763.1M1511.54 1763.1H1522.14M1537.18 1797.9V1793.9M1531.88 1793.9H1542.48M1557.52 1534.3V1527.1M1552.22 1527.1H1562.82M1593.48 1776.4V1771.9M1588.18 1771.9H1598.78M1613.82 1781.1V1776.8M1608.52 1776.8H1619.12M1634.16 1792.4V1790M1628.86 1790H1639.46M1654.5 1815.4V1813M1649.2 1813H1659.8M1674.84 1806.1V1802.1M1669.54 1802.1H1680.14M1695.18 1814.4V1808.9M1689.88 1808.9H1700.48M1715.52 1703V1673.7M1710.22 1673.7H1720.82" stroke="#808080" stroke-width="2.6" fill="none"/>
<g font-family="'Liberation Serif','Times New Roman',serif" font-weight="bold" font-size="23" text-anchor="middle"><text x="171.48" y="1689.1">a</text><text x="191.82" y="1689.1">a</text><text x="212.16" y="1710.5">a</text><text x="232.5" y="1720.6">a</text><text x="252.84" y="1733.2">a</text><text x="273.18" y="1733.2">a</text><text x="293.52" y="1700.7">a</text><text x="329.48" y="1734.6">bc</text><text x="349.82" y="1712.6">b</text><text x="370.16" y="1751.9">bc</text><text x="390.5" y="1730.6">bc</text><text x="410.84" y="1744.2">bc</text><text x="431.18" y="1777.9">c</text><text x="451.52" y="1613.9">a</text><text x="487.48" y="1763.5">c</text><text x="507.82" y="1675.1">a</text><text x="528.16" y="1679.5">ab</text><text x="548.5" y="1714.2">abc</text><text x="568.84" y="1714.2">abc</text><text x="589.18" y="1733.2">bc</text><text x="609.52" y="1766.5">c</text><text x="645.48" y="1751.9">b</text><text x="665.82" y="1757.7">b</text><text x="686.16" y="1764.9">b</text><text x="706.5" y="1772.9">b</text><text x="726.84" y="1776.3">b</text><text x="747.18" y="1778.9">b</text><text x="767.52" y="1545.7">a</text><text x="803.48" y="1775.3">ab</text><text x="823.82" y="1773.9">ab</text><text x="844.16" y="1754.9">ab</text><text x="864.5" y="1750.7">ab</text><text x="884.84" y="1800.6">b</text><text x="905.18" y="1738.8">a</text><text x="925.52" y="1804">b</text><text x="961.48" y="1739.6">a</text><text x="981.82" y="1752.8">a</text><text x="1002.16" y="1736.8">a</text><text x="1022.5" y="1748.2">a</text><text x="1042.84" y="1763.9">ab</text><text x="1063.18" y="1809.4">bc</text><text x="1083.52" y="1835.1">c</text><text x="1119.48" y="1731.2">a</text><text x="1139.82" y="1742.6">a</text><text x="1160.16" y="1748.8">a</text><text x="1180.5" y="1759.3">a</text><text x="1200.84" y="1768.3">a</text><text x="1221.18" y="1782.7">ab</text><text x="1241.52" y="1834.9">b</text><text x="1277.48" y="1720.8">b</text><text x="1297.82" y="1714.2">b</text><text x="1318.16" y="1720.2">b</text><text x="1338.5" y="1731.2">b</text><text x="1358.84" y="1746.8">b</text><text x="1379.18" y="1761.7">b</text><text x="1399.52" y="1523.1">a</text><text x="1435.48" y="1722.7">b</text><text x="1455.82" y="1751.7">bc</text><text x="1476.16" y="1761.4">bc</text><text x="1496.5" y="1767">bc</text><text x="1516.84" y="1757.7">bc</text><text x="1537.18" y="1788.5">c</text><text x="1557.52" y="1521.7">a</text><text x="1593.48" y="1766.5">b</text><text x="1613.82" y="1771.4">b</text><text x="1634.16" y="1784.6">b</text><text x="1654.5" y="1807.6">b</text><text x="1674.84" y="1796.7">b</text><text x="1695.18" y="1803.5">b</text><text x="1715.52" y="1668.3">a</text></g>
<rect x="153.8" y="1466.3" width="1579.7" height="394.9" fill="none" stroke="#000" stroke-width="4.7"/>
<path d="M153.8 1861.2H162.3M153.8 1795.38H158M153.8 1729.57H162.3M153.8 1663.75H158M153.8 1597.93H162.3M153.8 1532.12H158M153.8 1466.3H162.3" stroke="#000" stroke-width="4.6" fill="none"/>
<g font-family="'Liberation Serif','Times New Roman',serif" font-weight="bold" font-size="57.5" text-anchor="end"><text x="144" y="1877.7">0</text><text x="144" y="1746.07">5</text><text x="144" y="1614.43">10</text><text x="144" y="1482.8">15</text></g>
<g font-family="'Liberation Serif','Times New Roman',serif" font-weight="bold" font-size="57.5" text-anchor="middle"><text x="232.5" y="1926.7">Cf</text><text x="390.5" y="1926.7">Ec</text><text x="548.5" y="1926.7">Sd</text><text x="706.5" y="1926.7">Vn</text><text x="864.5" y="1926.7">Rh</text><text x="1022.5" y="1926.7">Ea</text><text x="1180.5" y="1926.7">Cm</text><text x="1338.5" y="1926.7">la</text><text x="1496.5" y="1926.7">Av</text><text x="1654.5" y="1926.7">Ai</text></g>
<text transform="translate(38.4,1662.35) rotate(-90)" text-anchor="middle" font-family="'Liberation Sans',Arial,sans-serif" font-weight="bold" font-size="40"><tspan>Tr(mmol H</tspan><tspan font-size="21">2</tspan><tspan dx="7"> O·m</tspan><tspan dy="-14.8" font-size="21">−2</tspan><tspan dx="4" dy="14.8">·s</tspan><tspan dx="1.5" dy="-14.8" font-size="21">−1</tspan><tspan dx="2" dy="14.8">)</tspan></text>
<g><rect x="162.68" y="2216" width="17.6" height="127.2" fill="#4EAB8F"/><rect x="183.02" y="2194.5" width="17.6" height="148.7" fill="#8FB79B"/><rect x="203.36" y="2207.2" width="17.6" height="136" fill="#EEDDC1"/><rect x="223.7" y="2233.6" width="17.6" height="109.6" fill="#ECBD6B"/><rect x="244.04" y="2240.7" width="17.6" height="102.5" fill="#C1452E"/><rect x="264.38" y="2277.7" width="17.6" height="65.5" fill="#54686F"/><rect x="284.72" y="2254.3" width="17.6" height="88.9" fill="#843F80"/><rect x="320.68" y="2155.4" width="17.6" height="187.8" fill="#4EAB8F"/><rect x="341.02" y="2167.1" width="17.6" height="176.1" fill="#8FB79B"/><rect x="361.36" y="2187.5" width="17.6" height="155.7" fill="#EEDDC1"/><rect x="381.7" y="2235.2" width="17.6" height="108" fill="#ECBD6B"/><rect x="402.04" y="2245.7" width="17.6" height="97.5" fill="#C1452E"/><rect x="422.38" y="2253.7" width="17.6" height="89.5" fill="#54686F"/><rect x="442.72" y="2275.1" width="17.6" height="68.1" fill="#843F80"/><rect x="478.68" y="2071.6" width="17.6" height="271.6" fill="#4EAB8F"/><rect x="499.02" y="2209.2" width="17.6" height="134" fill="#8FB79B"/><rect x="519.36" y="2219" width="17.6" height="124.2" fill="#EEDDC1"/><rect x="539.7" y="2244.7" width="17.6" height="98.5" fill="#ECBD6B"/><rect x="560.04" y="2251.7" width="17.6" height="91.5" fill="#C1452E"/><rect x="580.38" y="2262.7" width="17.6" height="80.5" fill="#54686F"/><rect x="600.72" y="2254.3" width="17.6" height="88.9" fill="#843F80"/><rect x="636.68" y="2167.9" width="17.6" height="175.3" fill="#4EAB8F"/><rect x="657.02" y="2173.5" width="17.6" height="169.7" fill="#8FB79B"/><rect x="677.36" y="2213" width="17.6" height="130.2" fill="#EEDDC1"/><rect x="697.7" y="2218" width="17.6" height="125.2" fill="#ECBD6B"/><rect x="718.04" y="2224.2" width="17.6" height="119" fill="#C1452E"/><rect x="738.38" y="2256.7" width="17.6" height="86.5" fill="#54686F"/><rect x="758.72" y="2308.2" width="17.6" height="35" fill="#843F80"/><rect x="794.68" y="2156.8" width="17.6" height="186.4" fill="#4EAB8F"/><rect x="815.02" y="2183.5" width="17.6" height="159.7" fill="#8FB79B"/><rect x="835.36" y="2229" width="17.6" height="114.2" fill="#EEDDC1"/><rect x="855.7" y="2297.8" width="17.6" height="45.4" fill="#ECBD6B"/><rect x="876.04" y="2268.7" width="17.6" height="74.5" fill="#C1452E"/><rect x="896.38" y="2321.9" width="17.6" height="21.3" fill="#54686F"/><rect x="916.72" y="2271.3" width="17.6" height="71.9" fill="#843F80"/><rect x="952.68" y="2200.2" width="17.6" height="143" fill="#4EAB8F"/><rect x="973.02" y="2223.6" width="17.6" height="119.6" fill="#8FB79B"/><rect x="993.36" y="2253.7" width="17.6" height="89.5" fill="#EEDDC1"/><rect x="1013.7" y="2255.7" width="17.6" height="87.5" fill="#ECBD6B"/><rect x="1034.04" y="2286.2" width="17.6" height="57" fill="#C1452E"/><rect x="1054.38" y="2280.8" width="17.6" height="62.4" fill="#54686F"/><rect x="1074.72" y="2251.3" width="17.6" height="91.9" fill="#843F80"/><rect x="1110.68" y="2206.2" width="17.6" height="137" fill="#4EAB8F"/><rect x="1131.02" y="2224.6" width="17.6" height="118.6" fill="#8FB79B"/><rect x="1151.36" y="2229.6" width="17.6" height="113.6" fill="#EEDDC1"/><rect x="1171.7" y="2222" width="17.6" height="121.2" fill="#ECBD6B"/><rect x="1192.04" y="2229" width="17.6" height="114.2" fill="#C1452E"/><rect x="1212.38" y="2240.1" width="17.6" height="103.1" fill="#54686F"/><rect x="1232.72" y="2251.3" width="17.6" height="91.9" fill="#843F80"/><rect x="1268.68" y="2245.7" width="17.6" height="97.5" fill="#4EAB8F"/><rect x="1289.02" y="2264.7" width="17.6" height="78.5" fill="#8FB79B"/><rect x="1309.36" y="2269.3" width="17.6" height="73.9" fill="#EEDDC1"/><rect x="1329.7" y="2275.1" width="17.6" height="68.1" fill="#ECBD6B"/><rect x="1350.04" y="2279.4" width="17.6" height="63.8" fill="#C1452E"/><rect x="1370.38" y="2279.4" width="17.6" height="63.8" fill="#54686F"/><rect x="1390.72" y="2307.4" width="17.6" height="35.8" fill="#843F80"/><rect x="1426.68" y="2203.1" width="17.6" height="140.1" fill="#4EAB8F"/><rect x="1447.02" y="2216.3" width="17.6" height="126.9" fill="#8FB79B"/><rect x="1467.36" y="2229.2" width="17.6" height="114" fill="#EEDDC1"/><rect x="1487.7" y="2252.4" width="17.6" height="90.8" fill="#ECBD6B"/><rect x="1508.04" y="2250.8" width="17.6" height="92.4" fill="#C1452E"/><rect x="1528.38" y="2259.4" width="17.6" height="83.8" fill="#54686F"/><rect x="1548.72" y="2307.3" width="17.6" height="35.9" fill="#843F80"/><rect x="1584.68" y="2131.2" width="17.6" height="212" fill="#4EAB8F"/><rect x="1605.02" y="2168.6" width="17.6" height="174.6" fill="#8FB79B"/><rect x="1625.36" y="2213.2" width="17.6" height="130" fill="#EEDDC1"/><rect x="1645.7" y="2217.3" width="17.6" height="125.9" fill="#ECBD6B"/><rect x="1666.04" y="2209.3" width="17.6" height="133.9" fill="#C1452E"/><rect x="1686.38" y="2070.4" width="17.6" height="272.8" fill="#54686F"/><rect x="1706.72" y="2066.2" width="17.6" height="277" fill="#843F80"/></g>
<g fill="#000"><rect x="161.88" y="2339.6" width="141.24" height="3.6"/><rect x="319.88" y="2339.6" width="141.24" height="3.6"/><rect x="477.88" y="2339.6" width="141.24" height="3.6"/><rect x="635.88" y="2339.6" width="141.24" height="3.6"/><rect x="793.88" y="2339.6" width="141.24" height="3.6"/><rect x="951.88" y="2339.6" width="141.24" height="3.6"/><rect x="1109.88" y="2339.6" width="141.24" height="3.6"/><rect x="1267.88" y="2339.6" width="141.24" height="3.6"/><rect x="1425.88" y="2339.6" width="141.24" height="3.6"/><rect x="1583.88" y="2339.6" width="141.24" height="3.6"/></g>
<path d="M171.48 2218V2211.2M166.18 2211.2H176.78M191.82 2196.5V2186.1M186.52 2186.1H197.12M212.16 2209.2V2204M206.86 2204H217.46M232.5 2235.6V2225M227.2 2225H237.8M252.84 2242.7V2235.3M247.54 2235.3H258.14M273.18 2279.7V2273.7M267.88 2273.7H278.48M293.52 2256.3V2241.3M288.22 2241.3H298.82M329.48 2157.4V2145.4M324.18 2145.4H334.78M349.82 2169.1V2161.5M344.52 2161.5H355.12M370.16 2189.5V2181.1M364.86 2181.1H375.46M390.5 2237.2V2229.6M385.2 2229.6H395.8M410.84 2247.7V2239.3M405.54 2239.3H416.14M431.18 2255.7V2247.3M425.88 2247.3H436.48M451.52 2277.1V2274.7M446.22 2274.7H456.82M487.48 2073.6V2060.6M482.18 2060.6H492.78M507.82 2211.2V2206M502.52 2206H513.12M528.16 2221V2214.6M522.86 2214.6H533.46M548.5 2246.7V2242.1M543.2 2242.1H553.8M568.84 2253.7V2249.1M563.54 2249.1H574.14M589.18 2264.7V2260.7M583.88 2260.7H594.48M609.52 2256.3V2241.3M604.22 2241.3H614.82M645.48 2169.9V2163.1M640.18 2163.1H650.78M665.82 2175.5V2169.1M660.52 2169.1H671.12M686.16 2215V2209M680.86 2209H691.46M706.5 2220V2214.6M701.2 2214.6H711.8M726.84 2226.2V2220M721.54 2220H732.14M747.18 2258.7V2252.1M741.88 2252.1H752.48M767.52 2310.2V2306.8M762.22 2306.8H772.82M803.48 2158.8V2152.8M798.18 2152.8H808.78M823.82 2185.5V2179.9M818.52 2179.9H829.12M844.16 2231V2226M838.86 2226H849.46M864.5 2299.8V2293.2M859.2 2293.2H869.8M884.84 2270.7V2268.3M879.54 2268.3H890.14M905.18 2323.9V2320.9M899.88 2320.9H910.48M925.52 2273.3V2266.7M920.22 2266.7H930.82M961.48 2202.2V2198.6M956.18 2198.6H966.78M981.82 2225.6V2222M976.52 2222H987.12M1002.16 2255.7V2250.7M996.86 2250.7H1007.46M1022.5 2257.7V2253.1M1017.2 2253.1H1027.8M1042.84 2288.2V2283.2M1037.54 2283.2H1048.14M1063.18 2282.8V2278.8M1057.88 2278.8H1068.48M1083.52 2253.3V2242.7M1078.22 2242.7H1088.82M1119.48 2208.2V2203.6M1114.18 2203.6H1124.78M1139.82 2226.6V2222.6M1134.52 2222.6H1145.12M1160.16 2231.6V2226.2M1154.86 2226.2H1165.46M1180.5 2224V2220M1175.2 2220H1185.8M1200.84 2231V2224.6M1195.54 2224.6H1206.14M1221.18 2242.1V2238.3M1215.88 2238.3H1226.48M1241.52 2253.3V2243.1M1236.22 2243.1H1246.82M1277.48 2247.7V2245.1M1272.18 2245.1H1282.78M1297.82 2266.7V2264.3M1292.52 2264.3H1303.12M1318.16 2271.3V2267.3M1312.86 2267.3H1323.46M1338.5 2277.1V2273.3M1333.2 2273.3H1343.8M1358.84 2281.4V2279M1353.54 2279H1364.14M1379.18 2281.4V2279M1373.88 2279H1384.48M1399.52 2309.4V2305.2M1394.22 2305.2H1404.82M1435.48 2205.1V2201.9M1430.18 2201.9H1440.78M1455.82 2218.3V2215.9M1450.52 2215.9H1461.12M1476.16 2231.2V2227.2M1470.86 2227.2H1481.46M1496.5 2254.4V2252M1491.2 2252H1501.8M1516.84 2252.8V2247.8M1511.54 2247.8H1522.14M1537.18 2261.4V2259M1531.88 2259H1542.48M1557.52 2309.3V2305.9M1552.22 2305.9H1562.82M1593.48 2133.2V2129.6M1588.18 2129.6H1598.78M1613.82 2170.6V2163.5M1608.52 2163.5H1619.12M1634.16 2215.2V2210.1M1628.86 2210.1H1639.46M1654.5 2219.3V2215.5M1649.2 2215.5H1659.8M1674.84 2211.3V2200.9M1669.54 2200.9H1680.14M1695.18 2072.4V2035.4M1689.88 2035.4H1700.48M1715.52 2068.2V2024.3M1710.22 2024.3H1720.82" stroke="#808080" stroke-width="2.6" fill="none"/>
<g font-family="'Liberation Serif','Times New Roman',serif" font-weight="bold" font-size="23" text-anchor="middle"><text x="171.48" y="2205.8">a</text><text x="191.82" y="2180.7">a</text><text x="212.16" y="2198.6">a</text><text x="232.5" y="2219.6">a</text><text x="252.84" y="2229.9">a</text><text x="273.18" y="2268.3">a</text><text x="293.52" y="2235.9">a</text><text x="329.48" y="2140">a</text><text x="349.82" y="2156.1">a</text><text x="370.16" y="2175.7">ab</text><text x="390.5" y="2224.2">ab</text><text x="410.84" y="2233.9">ab</text><text x="431.18" y="2241.9">ab</text><text x="451.52" y="2269.3">b</text><text x="487.48" y="2055.2">a</text><text x="507.82" y="2200.6">b</text><text x="528.16" y="2209.2">b</text><text x="548.5" y="2236.7">b</text><text x="568.84" y="2243.7">b</text><text x="589.18" y="2255.3">b</text><text x="609.52" y="2235.9">b</text><text x="645.48" y="2157.7">a</text><text x="665.82" y="2163.7">a</text><text x="686.16" y="2203.6">ab</text><text x="706.5" y="2209.2">ab</text><text x="726.84" y="2214.6">ab</text><text x="747.18" y="2246.7">ab</text><text x="767.52" y="2301.4">b</text><text x="803.48" y="2147.4">a</text><text x="823.82" y="2174.5">ab</text><text x="844.16" y="2220.6">abc</text><text x="864.5" y="2287.8">c</text><text x="884.84" y="2262.9">bc</text><text x="905.18" y="2315.5">c</text><text x="925.52" y="2261.3">bc</text><text x="961.48" y="2193.2">a</text><text x="981.82" y="2216.6">a</text><text x="1002.16" y="2245.3">a</text><text x="1022.5" y="2247.7">a</text><text x="1042.84" y="2277.8">a</text><text x="1063.18" y="2273.4">a</text><text x="1083.52" y="2237.3">a</text><text x="1119.48" y="2198.2">a</text><text x="1139.82" y="2217.2">a</text><text x="1160.16" y="2220.8">a</text><text x="1180.5" y="2214.6">a</text><text x="1200.84" y="2219.2">a</text><text x="1221.18" y="2232.9">a</text><text x="1241.52" y="2237.7">a</text><text x="1277.48" y="2239.7">a</text><text x="1297.82" y="2258.9">a</text><text x="1318.16" y="2261.9">a</text><text x="1338.5" y="2267.9">a</text><text x="1358.84" y="2273.6">a</text><text x="1379.18" y="2273.6">a</text><text x="1399.52" y="2299.8">a</text><text x="1435.48" y="2196.5">a</text><text x="1455.82" y="2210.5">ab</text><text x="1476.16" y="2221.8">ab</text><text x="1496.5" y="2246.6">ab</text><text x="1516.84" y="2242.4">ab</text><text x="1537.18" y="2253.6">ab</text><text x="1557.52" y="2300.5">b</text><text x="1593.48" y="2124.2">ab</text><text x="1613.82" y="2158.1">b</text><text x="1634.16" y="2204.7">b</text><text x="1654.5" y="2210.1">b</text><text x="1674.84" y="2195.5">b</text><text x="1695.18" y="2030">a</text><text x="1715.52" y="2018.9">a</text></g>
<rect x="153.8" y="1948.3" width="1579.7" height="394.9" fill="none" stroke="#000" stroke-width="4.7"/>
<path d="M153.8 2343.2H162.3M153.8 2286.79H158M153.8 2230.37H162.3M153.8 2173.96H158M153.8 2117.54H162.3M153.8 2061.13H158M153.8 2004.71H162.3M153.8 1948.3H158" stroke="#000" stroke-width="4.6" fill="none"/>
<g font-family="'Liberation Serif','Times New Roman',serif" font-weight="bold" font-size="57.5" text-anchor="end"><text x="144" y="2359.7">0</text><text x="144" y="2246.87">2</text><text x="144" y="2134.04">4</text><text x="144" y="2021.21">6</text></g>
<g font-family="'Liberation Serif','Times New Roman',serif" font-weight="bold" font-size="57.5" text-anchor="middle"><text x="232.5" y="2408.9">Cf</text><text x="390.5" y="2408.9">Ec</text><text x="548.5" y="2408.9">Sd</text><text x="706.5" y="2408.9">Vn</text><text x="864.5" y="2408.9">Rh</text><text x="1022.5" y="2408.9">Ea</text><text x="1180.5" y="2408.9">Cm</text><text x="1338.5" y="2408.9">la</text><text x="1496.5" y="2408.9">Av</text><text x="1654.5" y="2408.9">Ai</text></g>
<text transform="translate(36.2,2187.85) rotate(-90)" text-anchor="middle" font-family="'Liberation Sans',Arial,sans-serif" font-weight="bold" font-size="40"><tspan>WUE(µmol CO</tspan><tspan font-size="21">2</tspan><tspan dx="10"> ·mmol</tspan><tspan dx="1" dy="-14.8" font-size="21">−1</tspan><tspan dx="2" dy="14.8"> H</tspan><tspan font-size="21">2</tspan><tspan dx="7"> O)</tspan></text>
<g font-family="'Liberation Sans',Arial,sans-serif" font-weight="bold" font-size="34.2"><rect x="265" y="2458.8" width="78.4" height="38.9" fill="#4EAB8F"/><text x="354.5" y="2490.4">DS0</text><rect x="430.5" y="2458.8" width="78.4" height="38.9" fill="#8FB79B"/><text x="520" y="2490.4">DS10</text><rect x="615.6" y="2458.8" width="78.4" height="38.9" fill="#EEDDC1"/><text x="705.1" y="2490.4">DS20</text><rect x="799.8" y="2458.8" width="78.4" height="38.9" fill="#ECBD6B"/><text x="889.3" y="2490.4">DS30</text><rect x="985.6" y="2458.8" width="78.4" height="38.9" fill="#C1452E"/><text x="1075.1" y="2490.4">DS40</text><rect x="1170" y="2458.8" width="78.4" height="38.9" fill="#54686F"/><text x="1259.5" y="2490.4">DS50</text><rect x="1355.2" y="2458.8" width="78.4" height="38.9" fill="#843F80"/><text x="1444.7" y="2490.4">RE10</text></g>
</svg>
</body></html>
